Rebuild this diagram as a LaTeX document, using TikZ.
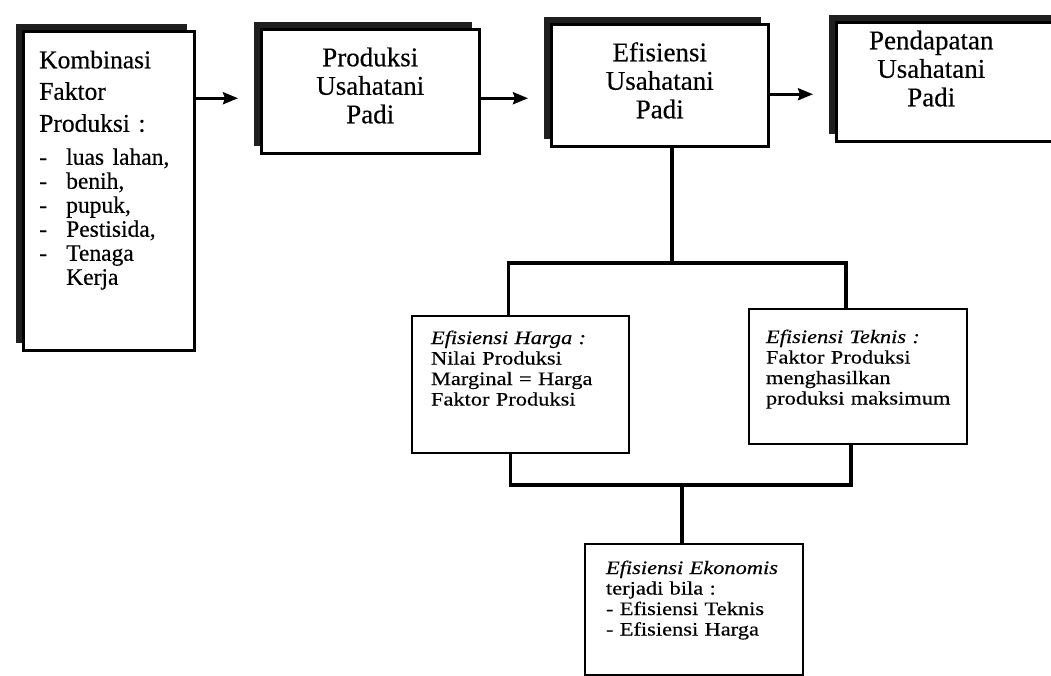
\documentclass[tikz,border=0pt]{standalone}
\usepackage{fontspec}
\setmainfont{Liberation Serif}[FakeBold=0.4]
\newfontfamily\lowfont[FakeStretch=1.18, FakeBold=0.4]{Liberation Serif}
\usepackage{tikz}
\usetikzlibrary{arrows.meta, shadows}
\tikzstyle{topbox} = [rectangle, anchor=north west, inner ysep=0pt, draw=black, line width=2.5pt, fill=white, drop shadow={shadow xshift=-7pt, shadow yshift=7pt, opacity=1, fill=black!88}]
\tikzstyle{bigtext} = [align=center, font=\fontsize{27}{28.5}\selectfont]
\tikzstyle{lowbox} = [rectangle, anchor=north west, inner ysep=0pt, align=left, draw=black, line width=2pt, fill=white, font=\lowfont\fontsize{19}{20.5}\selectfont]
\tikzstyle{arrow} = [line width=3pt, -{Stealth[length=15pt, width=12pt, inset=2pt]}, shorten >=22pt]
\tikzstyle{link} = [line width=3.3pt]

\begin{document}
\begin{tikzpicture}[x=1pt, y=-1pt]
\useasboundingbox (0,0) rectangle (1051,675);

\node (komb) [topbox, at={(22,30)}, inner xsep=16pt, text width=139pt, align=left, text height=37pt, text depth=282pt, font=\fontsize{25.5}{24}\selectfont] {Kombinasi\\[7.5pt] Faktor\\[8pt] Produksi :\\[9pt]
{\fontsize{23.5}{24}\selectfont \makebox[27pt][l]{-}luas lahan,\\ \makebox[27pt][l]{-}benih,\\ \makebox[27pt][l]{-}pupuk,\\ \makebox[27pt][l]{-}Pestisida,\\ \makebox[27pt][l]{-}Tenaga\\ \hspace*{27pt}Kerja}};
\node (prod) [topbox, bigtext, at={(260,28)}, inner xsep=10pt, text width=198pt, text height=37pt, text depth=87pt] {Produksi\\ Usahatani\\ Padi};
\node (efus) [topbox, bigtext, at={(550,23)}, inner xsep=10pt, text width=197pt, text height=37pt, text depth=85pt] {Efisiensi\\ Usahatani\\ Padi};
% box runs off the right edge of the page
\node (pend) [topbox, bigtext, align=left, at={(835,21)}, inner xsep=20pt, text width=200pt, text height=27pt, text depth=92pt] {\makebox[150pt]{Pendapatan}\\ \makebox[150pt]{Usahatani}\\ \makebox[150pt]{Padi}};

\node (harga) [lowbox, at={(411,315)}, inner xsep=19pt, text width=179pt, text height=28pt, text depth=109pt] {\textit{Efisiensi Harga :}\\ Nilai Produksi\\ \mbox{Marginal = Harga}\\ Faktor Produksi};
\node (teknis) [lowbox, at={(748,308)}, inner xsep=17pt, text width=184pt, text height=34pt, text depth=101pt] {\textit{Efisiensi Teknis :}\\ Faktor Produksi\\ menghasilkan\\ \mbox{produksi maksimum}};
\node (ekon) [lowbox, at={(584,543)}, inner xsep=21pt, text width=176pt, text height=30pt, text depth=101pt] {\textit{Efisiensi Ekonomis}\\ terjadi bila :\\ - Efisiensi Teknis\\ - Efisiensi Harga};

\coordinate (jtop) at (672,263);
\coordinate (jbot) at (682,485);

\draw [arrow] ([yshift=-7pt]prod.west -| komb.east) -- ([yshift=-7pt]prod.west);
\draw [arrow] ([yshift=-7pt]prod.east) -- ([yshift=-7pt]prod.east -| efus.west);
\draw [arrow] ([yshift=-9pt]efus.east) -- ([yshift=-9pt]efus.east -| pend.west);

\draw [link] (efus.south -| jtop) -- (jtop);
\draw [link] ([xshift=-12pt]harga.north) |- (jtop) -| ([xshift=-12pt]teknis.north);
\draw [link] ([xshift=-10pt]harga.south) |- (jbot) -| ([xshift=-7pt]teknis.south);
\draw [link] (jbot) -- (ekon.north -| jbot);
\end{tikzpicture}
\end{document}
